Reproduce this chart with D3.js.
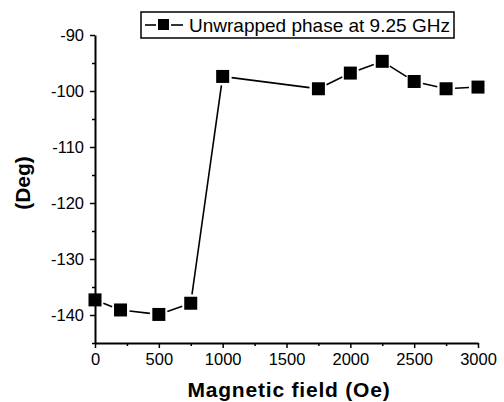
<!DOCTYPE html>
<html>
<head>
<meta charset="utf-8">
<script src="https://cdn.jsdelivr.net/npm/d3@7"></script>
<style>
  body { margin: 0; background: #fff; }
  text { font-family: "Liberation Sans", Arial, sans-serif; fill: #000; }
</style>
</head>
<body>
<div id="chart"></div>
<script>
// data
var fieldOe = [0, 200, 500, 750, 1000, 1750, 2000, 2250, 2500, 2750, 3000]
var phaseDeg = [-137.3, -139.1, -139.9, -137.9, -97.4, -99.6, -96.8, -94.7, -98.3, -99.6, -99.3]
var xTicks = [0, 500, 1000, 1500, 2000, 2500, 3000]
var yTicks = [-140, -130, -120, -110, -100, -90]
var legendLabel = "Unwrapped phase at 9.25 GHz"

var width = 504, height = 402
var margin = {top: 35, left: 95, right: 26, bottom: 59}

var svg = d3.select("#chart").append("svg")
  .attr("width", width)
  .attr("height", height)

var x = d3.scaleLinear().domain([0, 3000])
  .range([margin.left, width - margin.right])
var y = d3.scaleLinear().domain([-145, -90])
  .range([height - margin.bottom, margin.top])

// minor ticks
svg.append("g")
  .attr("transform", "translate(0," + (height - margin.bottom) + ")")
  .call(d3.axisBottom(x).tickValues(d3.range(250, 3000, 500)).tickSize(3).tickFormat(""))
  .call(g => g.select(".domain").remove())
  .selectAll("line").attr("stroke-width", 1.5)
svg.append("g")
  .attr("transform", "translate(" + margin.left + ",0)")
  .call(d3.axisLeft(y).tickValues(d3.range(-145, -90, 10)).tickSize(3).tickFormat(""))
  .call(g => g.select(".domain").remove())
  .selectAll("line").attr("stroke-width", 1.5)

// major axes
var xAxis = svg.append("g")
  .attr("transform", "translate(0," + (height - margin.bottom) + ")")
  .call(d3.axisBottom(x).tickValues(xTicks).tickSize(5).tickSizeOuter(0).tickPadding(5)
    .tickFormat(d3.format("d")))
var yAxis = svg.append("g")
  .attr("transform", "translate(" + margin.left + ",0)")
  .call(d3.axisLeft(y).tickValues(yTicks).tickSize(5).tickSizeOuter(0).tickPadding(6)
    .tickFormat(d => String(d)))

;[xAxis, yAxis].forEach(function(g) {
  g.select(".domain").attr("stroke-width", 2)
  g.selectAll(".tick line").attr("stroke-width", 1.5)
  g.selectAll(".tick text").style("font-size", "16.5px")
})

// axis titles
svg.append("text")
  .attr("x", 289).attr("y", 396.5)
  .attr("text-anchor", "middle")
  .style("font-size", "21px").style("font-weight", "bold")
  .style("letter-spacing", "0.8px")
  .text("Magnetic field (Oe)")
svg.append("text")
  .attr("transform", "translate(30,183) rotate(-90)")
  .attr("text-anchor", "middle")
  .style("font-size", "21px").style("font-weight", "bold")
  .text("(Deg)")

// line segments with gaps at the markers
var gap = 9
var pts = fieldOe.map((f, i) => [x(f), y(phaseDeg[i])])
for (var i = 0; i < pts.length - 1; i++) {
  var a = pts[i], b = pts[i + 1]
  var dx = b[0] - a[0], dy = b[1] - a[1]
  var len = Math.sqrt(dx * dx + dy * dy)
  if (len <= 2 * gap) continue
  var ux = dx / len, uy = dy / len
  svg.append("line")
    .attr("x1", a[0] + ux * gap).attr("y1", a[1] + uy * gap)
    .attr("x2", b[0] - ux * gap).attr("y2", b[1] - uy * gap)
    .attr("stroke", "#000").attr("stroke-width", 1.6)
}

var ms = 13
svg.selectAll("rect.pt")
  .data(fieldOe)
  .enter()
  .append("rect")
  .attr("class", "pt")
  .attr("x", (d, i) => x(d) - ms / 2)
  .attr("y", (d, i) => y(phaseDeg[i]) - ms / 2)
  .attr("width", ms).attr("height", ms)
  .attr("fill", "#000")

// legend
var lg = svg.append("g").attr("transform", "translate(141,12)")
lg.append("rect")
  .attr("width", 313).attr("height", 26)
  .attr("fill", "#fff").attr("stroke", "#000").attr("stroke-width", 1.5)
lg.append("line").attr("x1", 4).attr("x2", 15).attr("y1", 13).attr("y2", 13)
  .attr("stroke", "#000").attr("stroke-width", 1.6)
lg.append("line").attr("x1", 30).attr("x2", 42).attr("y1", 13).attr("y2", 13)
  .attr("stroke", "#000").attr("stroke-width", 1.6)
lg.append("rect").attr("x", 17).attr("y", 7).attr("width", 11).attr("height", 11).attr("fill", "#000")
lg.append("text")
  .attr("x", 48).attr("y", 20)
  .style("font-size", "19px")
  .text(legendLabel)
</script>
</body>
</html>
